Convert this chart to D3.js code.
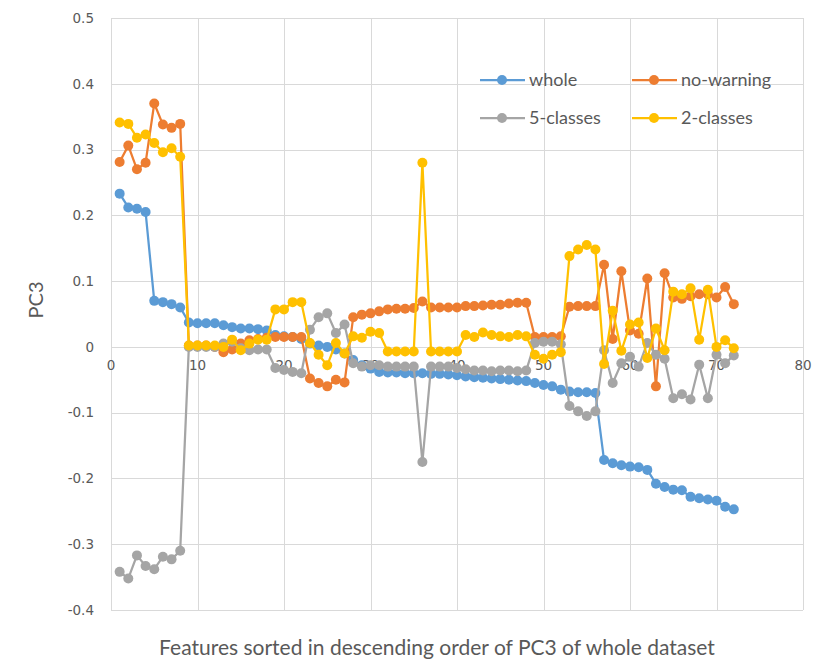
<!DOCTYPE html>
<html>
<head>
<meta charset="utf-8">
<script src="https://cdnjs.cloudflare.com/ajax/libs/d3/7.8.5/d3.min.js"></script>
<style>
  body { margin: 0; background: #fff; }
  .grid line { stroke: #d9d9d9; stroke-width: 1; }
  .tick-label { font-family: 'DejaVu Sans', sans-serif; font-size: 13.5px; fill: #595959; }
  .axis-title { font-family: Lato, 'Open Sans', sans-serif; fill: #595959; }
  .legend-label { font-family: Lato, 'Open Sans', sans-serif; font-size: 18px; fill: #595959; }
</style>
</head>
<body>
<svg id="chart" width="821" height="666"></svg>
<script>
var xTicks = [0, 10, 20, 30, 40, 50, 60, 70, 80];
var yTicks = [-0.4, -0.3, -0.2, -0.1, 0, 0.1, 0.2, 0.3, 0.4, 0.5];

var whole = [
  0.233, 0.212, 0.210, 0.205, 0.070, 0.068, 0.065, 0.060, 0.037, 0.036,
  0.036, 0.036, 0.033, 0.030, 0.028, 0.028, 0.027, 0.025, 0.018, 0.016,
  0.015, 0.012, 0.005, 0.002, 0.000, -0.004, -0.010, -0.020, -0.028, -0.033,
  -0.038, -0.039, -0.039, -0.040, -0.040, -0.040, -0.041, -0.041, -0.042, -0.043,
  -0.045, -0.046, -0.047, -0.048, -0.049, -0.050, -0.051, -0.052, -0.055, -0.058,
  -0.060, -0.065, -0.068, -0.069, -0.069, -0.070, -0.172, -0.177, -0.180, -0.182,
  -0.183, -0.187, -0.208, -0.213, -0.217, -0.218, -0.228, -0.230, -0.232, -0.234,
  -0.243, -0.247
];

var noWarning = [
  0.281, 0.306, 0.270, 0.280, 0.370, 0.338, 0.333, 0.339, 0.002, 0.002,
  0.002, 0.000, -0.008, -0.004, 0.005, 0.010, 0.012, 0.014, 0.015, 0.015,
  0.015, 0.015, -0.048, -0.055, -0.060, -0.050, -0.054, 0.045, 0.049, 0.051,
  0.054, 0.057, 0.058, 0.058, 0.059, 0.069, 0.060, 0.060, 0.060, 0.060,
  0.062, 0.062, 0.063, 0.064, 0.064, 0.066, 0.067, 0.067, 0.015, 0.015,
  0.015, 0.016, 0.061, 0.062, 0.062, 0.062, 0.125, 0.012, 0.115, 0.025,
  0.020, 0.104, -0.060, 0.112, 0.075, 0.073, 0.077, 0.080, 0.080, 0.075,
  0.091, 0.065
];

var fiveClasses = [
  -0.342, -0.352, -0.317, -0.333, -0.338, -0.319, -0.323, -0.310, 0.000, 0.000,
  0.000, 0.000, 0.005, 0.008, -0.002, -0.005, -0.004, -0.004, -0.032, -0.035,
  -0.038, -0.040, 0.026, 0.045, 0.051, 0.021, 0.034, -0.025, -0.030, -0.028,
  -0.028, -0.030, -0.030, -0.030, -0.030, -0.175, -0.030, -0.030, -0.030, -0.032,
  -0.034, -0.036, -0.036, -0.037, -0.036, -0.036, -0.037, -0.036, 0.006, 0.008,
  0.008, 0.004, -0.090, -0.098, -0.105, -0.098, -0.005, -0.055, -0.025, -0.015,
  -0.030, 0.006, -0.012, -0.018, -0.078, -0.072, -0.080, -0.027, -0.078, -0.012,
  -0.025, -0.013
];

var twoClasses = [
  0.341, 0.339, 0.318, 0.323, 0.310, 0.296, 0.302, 0.289, 0.002, 0.002,
  0.002, 0.002, 0.000, 0.011, -0.005, 0.005, 0.011, 0.011, 0.057, 0.057,
  0.068, 0.068, 0.006, -0.012, -0.028, 0.006, -0.010, 0.016, 0.014, 0.023,
  0.021, -0.007, -0.007, -0.007, -0.007, 0.280, -0.007, -0.007, -0.007, -0.007,
  0.018, 0.015, 0.022, 0.018, 0.016, 0.015, 0.018, 0.016, -0.012, -0.018,
  -0.012, -0.008, 0.138, 0.148, 0.155, 0.148, -0.026, 0.055, -0.006, 0.034,
  0.037, -0.017, 0.028, -0.005, 0.084, 0.080, 0.089, 0.011, 0.087, 0.000,
  0.010, -0.002
];

var seriesNames = ['whole', 'no-warning', '5-classes', '2-classes'];
var seriesValues = [whole, noWarning, fiveClasses, twoClasses];
var seriesColors = ['#5b9bd5', '#ed7d31', '#a5a5a5', '#ffc000'];

var PLOT = { left: 111, right: 803, top: 18, bottom: 610 };

var svg = d3.select('#chart');

var xScale = d3.scaleLinear().domain([0, 80]).range([PLOT.left, PLOT.right]);
var yScale = d3.scaleLinear().domain([-0.4, 0.5]).range([PLOT.bottom, PLOT.top]);

// gridlines
var grid = svg.append('g').attr('class', 'grid');
grid.selectAll('.hline')
  .data(yTicks)
  .enter().append('line')
  .attr('x1', PLOT.left).attr('x2', PLOT.right)
  .attr('y1', function(d) { return Math.round(yScale(d)) + 0.5; })
  .attr('y2', function(d) { return Math.round(yScale(d)) + 0.5; });
grid.selectAll('.vline')
  .data(xTicks)
  .enter().append('line')
  .attr('y1', PLOT.top).attr('y2', PLOT.bottom)
  .attr('x1', function(d) { return Math.round(xScale(d)) + 0.5; })
  .attr('x2', function(d) { return Math.round(xScale(d)) + 0.5; });

// y tick labels (plain hyphen for negatives, like the original)
svg.append('g').selectAll('text')
  .data(yTicks)
  .enter().append('text')
  .attr('class', 'tick-label')
  .attr('x', PLOT.left - 17)
  .attr('y', function(d) { return yScale(d); })
  .attr('dy', '0.35em')
  .attr('text-anchor', 'end')
  .text(function(d) { return String(+d.toFixed(1)); });

// x tick labels, sitting under the zero line
svg.append('g').selectAll('text')
  .data(xTicks)
  .enter().append('text')
  .attr('class', 'tick-label')
  .attr('x', function(d) { return xScale(d); })
  .attr('y', yScale(0) + 23)
  .attr('text-anchor', 'middle')
  .text(function(d) { return d; });

// series
var line = d3.line()
  .x(function(d, i) { return xScale(i + 1); })
  .y(function(d) { return yScale(d); });

seriesValues.forEach(function(values, k) {
  var g = svg.append('g').attr('class', 'series');
  g.append('path')
    .datum(values)
    .attr('fill', 'none')
    .attr('stroke', seriesColors[k])
    .attr('stroke-width', 2.25)
    .attr('stroke-linejoin', 'round')
    .attr('d', line);
  g.selectAll('circle')
    .data(values)
    .enter().append('circle')
    .attr('cx', function(d, i) { return xScale(i + 1); })
    .attr('cy', function(d) { return yScale(d); })
    .attr('r', 5)
    .attr('fill', seriesColors[k]);
});

// legend
var legendPos = [[480, 80], [632, 80], [480, 118], [632, 118]];
seriesNames.forEach(function(name, k) {
  var lg = svg.append('g')
    .attr('transform', 'translate(' + legendPos[k][0] + ',' + legendPos[k][1] + ')');
  lg.append('line')
    .attr('x1', 0).attr('x2', 45)
    .attr('stroke', seriesColors[k])
    .attr('stroke-width', 2.25);
  lg.append('circle')
    .attr('cx', 22).attr('r', 5)
    .attr('fill', seriesColors[k]);
  lg.append('text')
    .attr('class', 'legend-label')
    .attr('x', 49)
    .attr('dy', '0.35em')
    .text(name);
});

// axis titles
svg.append('text')
  .attr('class', 'axis-title')
  .attr('font-size', 20)
  .attr('text-anchor', 'middle')
  .attr('transform', 'translate(43,' + ((PLOT.top + PLOT.bottom) / 2 - 14) + ') rotate(-90)')
  .text('PC3');

svg.append('text')
  .attr('class', 'axis-title')
  .attr('font-size', 21)
  .attr('x', 437)
  .attr('y', 655)
  .attr('text-anchor', 'middle')
  .text('Features sorted in descending order of PC3 of whole dataset');
</script>
</body>
</html>
